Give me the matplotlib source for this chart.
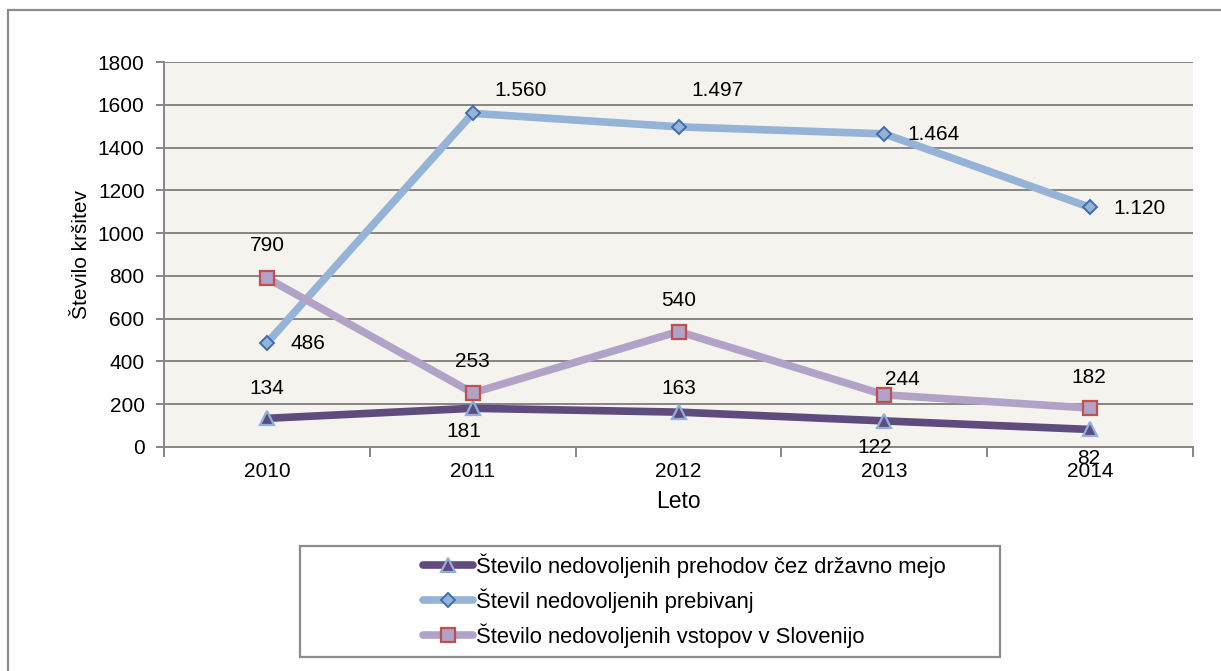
import matplotlib
matplotlib.use('Agg')
import matplotlib.pyplot as plt
from matplotlib.patches import Rectangle
import numpy as np

plt.rcParams['font.family'] = ['Liberation Sans', 'DejaVu Sans']
plt.rcParams['font.size'] = 15

years = ['2010', '2011', '2012', '2013', '2014']
prehodi = [134, 181, 163, 122, 82]
prebivanja = [486, 1560, 1497, 1464, 1120]
vstopi = [790, 253, 540, 244, 182]

prehodi_labels = ['134', '181', '163', '122', '82']
prebivanja_labels = ['486', '1.560', '1.497', '1.464', '1.120']
vstopi_labels = ['790', '253', '540', '244', '182']

names = ['Število nedovoljenih prehodov čez državno mejo',
         'Števil nedovoljenih prebivanj',
         'Število nedovoljenih vstopov v Slovenijo']

# label offsets in pixels (dx, dy)
off_prehodi = [(0, 30), (-9, -23), (0, 24), (-10, -27), (-1, -29)]
off_prebivanja = [(41, 0), (48, 23), (39, 36), (49, -1), (49, -1)]
off_vstopi = [(0, 33), (0, 31), (0, 31), (18, 15), (-1, 31)]

W, H = 1221, 671
fig = plt.figure(figsize=(W / 100, H / 100), dpi=100)

# outer chart border
fig.patches.append(Rectangle((8 / W, -0.1), 1.2, (H - 10) / H + 0.1, transform=fig.transFigure,
                             fill=False, edgecolor='#8c8c8c', lw=1.6))

ax = fig.add_axes([164 / W, (H - 447) / H, (1193 - 164) / W, (447 - 62) / H])
ax.set_facecolor('#f4f3ee')
x = np.arange(len(years))

grid = '#868686'
ax.set_xlim(-0.5, 4.5)
ax.set_ylim(0, 1800)
ax.set_yticks(range(0, 1801, 200))
ax.yaxis.grid(True, color=grid, lw=1.4)
ax.set_axisbelow(True)
for s in ['top', 'right']:
    ax.spines[s].set_visible(False)
for s in ['left', 'bottom']:
    ax.spines[s].set_color(grid)
    ax.spines[s].set_linewidth(1.4)

ax.set_xticks(x)
ax.set_xticklabels(years)
ax.set_xticks(np.arange(-0.5, 4.6, 1), minor=True)
ax.tick_params(axis='x', which='major', length=0, pad=11)
ax.tick_params(axis='x', which='minor', length=7, color=grid, width=1.4)
ax.tick_params(axis='y', length=6, color=grid, width=1.4, pad=8)

ax.set_xlabel('Leto', labelpad=6, fontsize=16.5)
ax.set_ylabel('Število kršitev', labelpad=5, fontsize=15)

l1, = ax.plot(x, prehodi, color='#5f4b7e', lw=5.5, marker='^', ms=10,
              mfc='#5f4b7e', mec='#8eb0da', mew=1.6, zorder=3, solid_capstyle='round')
l2, = ax.plot(x, prebivanja, color='#95b3d7', lw=5.5, marker='D', ms=7.5,
              mfc='#95b3d7', mec='#3e6daf', mew=1.4, zorder=3, solid_capstyle='round')
l3, = ax.plot(x, vstopi, color='#b3a2c7', lw=5.5, marker='s', ms=9.5,
              mfc='#b3a2c7', mec='#c0504d', mew=1.6, zorder=3, solid_capstyle='round')

for vals, labs, offs in [(prehodi, prehodi_labels, off_prehodi),
                         (prebivanja, prebivanja_labels, off_prebivanja),
                         (vstopi, vstopi_labels, off_vstopi)]:
    for xi, v, t, o in zip(x, vals, labs, offs):
        ax.annotate(t, (xi, v), xytext=o, textcoords='offset pixels',
                    ha='center', va='center', zorder=5, annotation_clip=False)

# legend box
fig.patches.append(Rectangle((300 / W, (H - 657) / H), 700 / W, 111 / H, transform=fig.transFigure,
                             fill=False, edgecolor='#8c8c8c', lw=1.6))
fig.legend([l1, l2, l3], names, loc='upper left',
           bbox_to_anchor=(423 / W, (H - 553.5) / H), frameon=False,
           borderpad=0, borderaxespad=0, handlelength=2.28, handletextpad=0.14,
           labelspacing=0.47, fontsize=15.8)

plt.savefig('out.png', dpi=100)
